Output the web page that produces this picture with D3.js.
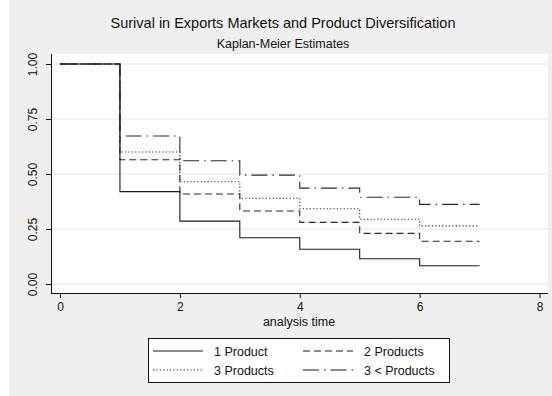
<!DOCTYPE html>
<html>
<head>
<meta charset="utf-8">
<script src="https://cdn.jsdelivr.net/npm/d3@7"></script>
<style>
  html, body { margin: 0; padding: 0; background: #ffffff; }
  svg { display: block; }
  text { font-family: "Liberation Sans", Arial, sans-serif; fill: #111; }
</style>
</head>
<body>
<svg id="chart" width="552" height="396"></svg>
<script>
// Kaplan-Meier survival steps at analysis times 0..7
const times = [0, 1, 2, 3, 4, 5, 6, 7];
const oneProduct   = [1.00, 0.420, 0.286, 0.210, 0.158, 0.115, 0.083, 0.083];
const twoProducts  = [1.00, 0.565, 0.409, 0.332, 0.280, 0.230, 0.194, 0.194];
const threeProducts= [1.00, 0.600, 0.465, 0.390, 0.342, 0.294, 0.264, 0.264];
const moreProducts = [1.00, 0.673, 0.560, 0.495, 0.436, 0.394, 0.362, 0.362];
const seriesNames = ["1 Product", "2 Products", "3 Products", "3 < Products"];
const xTicks = [0, 2, 4, 6, 8];
const yTicks = [0, 0.25, 0.5, 0.75, 1];

const seriesValues = [oneProduct, twoProducts, threeProducts, moreProducts];
const dashes = [null, "7,4", "1.2,2.2", "16,5,1.5,5"];

const svg = d3.select("#chart");

// figure background
svg.append("rect").attr("x", 9).attr("y", 0).attr("width", 543).attr("height", 396).attr("fill", "#efefef");

const plot = { left: 51, right: 548, top: 54, bottom: 293 };
svg.append("rect")
  .attr("x", plot.left).attr("y", plot.top)
  .attr("width", plot.right - plot.left).attr("height", plot.bottom - plot.top)
  .attr("fill", "#ffffff");

const x = d3.scaleLinear().domain([0, 8]).range([60, 539.5]);
const y = d3.scaleLinear().domain([0, 1]).range([284, 64]);

// gridlines
svg.append("g").selectAll("line").data(yTicks).join("line")
  .attr("x1", plot.left).attr("x2", plot.right)
  .attr("y1", d => y(d)).attr("y2", d => y(d))
  .attr("stroke", "#e6e6e6").attr("stroke-width", 1);

// survival step curves (solid curve drawn last so it sits on top)
const line = d3.line().x(d => x(d[0])).y(d => y(d[1])).curve(d3.curveStepAfter);
d3.range(seriesValues.length).reverse().forEach(i => {
  const vals = seriesValues[i];
  const pts = times.map((t, j) => [t, vals[j]]);
  svg.append("path")
    .attr("d", line(pts))
    .attr("fill", "none")
    .attr("stroke", i === 0 ? "#1a1a1a" : "#2a2a2a")
    .attr("stroke-width", 1.1)
    .attr("stroke-dasharray", dashes[i]);
});

// axes
const xAxis = d3.axisBottom(x).tickValues(xTicks).tickSize(5).tickSizeOuter(0).tickFormat(d3.format("d"));
const gx = svg.append("g").attr("transform", `translate(0,${plot.bottom})`).call(xAxis);
gx.select(".domain").attr("d", `M${plot.left},0.5H${plot.right}`).attr("stroke", "#111");
gx.selectAll(".tick line").attr("stroke", "#111");
gx.selectAll(".tick text").attr("font-size", 12).attr("dy", "0.75em").attr("y", 9)
  .style("font-family", "Liberation Sans, Arial, sans-serif").attr("fill", "#111");

const yAxis = d3.axisLeft(y).tickValues(yTicks).tickSize(5).tickSizeOuter(0).tickFormat(d3.format(".2f"));
const gy = svg.append("g").attr("transform", `translate(${plot.left},0)`).call(yAxis);
gy.select(".domain").attr("d", `M0.5,${plot.top}V${plot.bottom}`).attr("stroke", "#111");
gy.selectAll(".tick line").attr("stroke", "#111");
gy.selectAll(".tick text")
  .attr("x", null).attr("dy", null)
  .attr("text-anchor", "middle")
  .attr("transform", "translate(-14,0) rotate(-90)")
  .attr("font-size", 12)
  .style("font-family", "Liberation Sans, Arial, sans-serif").attr("fill", "#111");
gx.attr("font-family", null); gy.attr("font-family", null);

// titles
svg.append("text").attr("x", 283).attr("y", 28).attr("text-anchor", "middle")
  .attr("font-size", 14.5).attr("fill", "#222").text("Surival in Exports Markets and Product Diversification");
svg.append("text").attr("x", 283).attr("y", 48).attr("text-anchor", "middle")
  .attr("font-size", 12.5).attr("fill", "#222").text("Kaplan-Meier Estimates");
svg.append("text").attr("x", 299).attr("y", 326).attr("text-anchor", "middle")
  .attr("font-size", 12.5).attr("fill", "#222").text("analysis time");

// legend
const legend = svg.append("g");
legend.append("rect").attr("x", 148.5).attr("y", 338.5).attr("width", 301).attr("height", 44)
  .attr("fill", "#ffffff").attr("stroke", "#111").attr("stroke-width", 1);
const cols = [153, 303];
const rows = [351, 370];
seriesNames.forEach((name, i) => {
  const cx = cols[i % 2], cy = rows[Math.floor(i / 2)];
  legend.append("line").attr("x1", cx).attr("x2", cx + 50).attr("y1", cy).attr("y2", cy)
    .attr("stroke", "#1a1a1a").attr("stroke-width", 1.1).attr("stroke-dasharray", dashes[i]);
  legend.append("text").attr("x", cx + 61).attr("y", cy + 4.5)
    .attr("font-size", 12.5).attr("fill", "#222").text(name);
});
</script>
</body>
</html>
